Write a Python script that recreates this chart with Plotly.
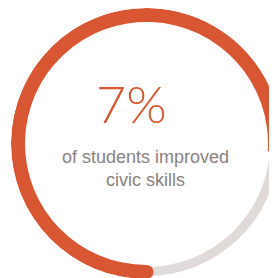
import plotly.graph_objects as go

# ---- data ----
segments = ["improved", "remainder"]
values = [76, 24]
headline = "7%"
caption_lines = ["of students improved", "civic skills"]

# ---- style ----
ORANGE = "#D85631"
GRAY = "#E0DBD8"
TEXT_GRAY = "#8A8280"
W, H = 277, 278
CX, CY = 138.5, 135.5        # ring centre in figure px (from top-left)
RPX = 135.5                  # polar radius in px

ORANGE_IN, ORANGE_OUT = 121.5, 135.5
GRAY_IN, GRAY_OUT = 123.5, 132.5
START = 180.0                # ring starts at 6 o'clock, runs clockwise

total = sum(values)
spans = [v / total * 360.0 for v in values]
starts = [START, START + spans[0]]
centers = [(s + sp / 2.0) % 360 for s, sp in zip(starts, spans)]

fig = go.Figure()
fig.add_trace(go.Barpolar(
    theta=[centers[1]], width=[spans[1]], base=[GRAY_IN], r=[GRAY_OUT - GRAY_IN],
    marker=dict(color=GRAY, line=dict(width=0)), name=segments[1], hoverinfo="skip"))
fig.add_trace(go.Barpolar(
    theta=[centers[0]], width=[spans[0]], base=[ORANGE_IN], r=[ORANGE_OUT - ORANGE_IN],
    marker=dict(color=ORANGE, line=dict(width=0)), name=segments[0], hoverinfo="skip"))
fig.add_trace(go.Scatterpolar(
    theta=[starts[0]], r=[(ORANGE_IN + ORANGE_OUT) / 2.0], mode="markers",
    marker=dict(color=ORANGE, size=ORANGE_OUT - ORANGE_IN, line=dict(width=0)),
    hoverinfo="skip", cliponaxis=False))

fig.update_layout(
    width=W, height=H, margin=dict(l=0, r=0, t=0, b=0),
    paper_bgcolor="white", plot_bgcolor="white", showlegend=False,
    polar=dict(
        domain=dict(x=[max(0.0, (CX - RPX) / W), min(1.0, (CX + RPX) / W)],
                    y=[max(0.0, 1 - (CY + RPX) / H), min(1.0, 1 - (CY - RPX) / H)]),
        bgcolor="rgba(0,0,0,0)",
        radialaxis=dict(range=[0, RPX], visible=False, showgrid=False),
        angularaxis=dict(rotation=90, direction="clockwise", visible=False, showgrid=False),
        bargap=0,
    ),
)

fig.add_annotation(text=headline, x=123 / W, y=1 - 94.5 / H, xref="paper", yref="paper",
                   showarrow=False, xanchor="center", yanchor="middle",
                   font=dict(family="Lato, Roboto, sans-serif", size=52, color=ORANGE, weight=300))
fig.add_annotation(text="<br>".join(caption_lines), x=137 / W, y=1 - 160 / H,
                   xref="paper", yref="paper", showarrow=False,
                   xanchor="center", yanchor="middle", align="center",
                   font=dict(family="Liberation Sans, Arial, sans-serif", size=18, color=TEXT_GRAY))

fig.write_html("out.html")
